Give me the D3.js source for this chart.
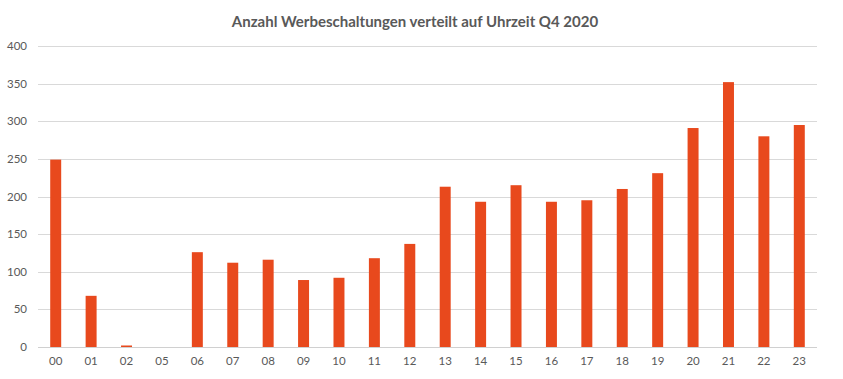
<!DOCTYPE html>
<html><head><meta charset="utf-8">
<script src="https://cdn.jsdelivr.net/npm/d3@7"></script>
<style>body{margin:0;background:#fff;} svg{display:block;}</style>
</head><body>
<svg id="chart" width="843" height="379"></svg>
<script>
const title = "Anzahl Werbeschaltungen verteilt auf Uhrzeit Q4 2020";
const hours = ["00","01","02","05","06","07","08","09","10","11","12","13","14","15","16","17","18","19","20","21","22","23"];
const values = [249,68,2,0,126,112,116,89,92,118,137,213,193,215,193,195,210,231,291,352,280,295];
const yTicks = [0,50,100,150,200,250,300,350,400];

const svg = d3.select("#chart");
const margin = {left:38, right:26};
const W = 843, H = 379;
const x = d3.scaleBand().domain(hours).range([margin.left, W - margin.right]).paddingInner(0.69).paddingOuter(0.345);
const y = d3.scaleLinear().domain([0,400]).range([347, 46]);

const font = "Lato, 'Open Sans', sans-serif";

// gridlines
svg.append("g").selectAll("line").data(yTicks).join("line")
  .attr("x1", margin.left).attr("x2", W - margin.right)
  .attr("y1", d => Math.round(y(d)) + 0.5).attr("y2", d => Math.round(y(d)) + 0.5)
  .attr("stroke", d => d === 0 ? "#d0d0d0" : "#d9d9d9").attr("stroke-width", 1);

// y labels
svg.append("g").selectAll("text").data(yTicks).join("text")
  .attr("x", 27).attr("y", d => y(d)).attr("dy", "0.35em")
  .attr("text-anchor", "end").attr("font-family", font).attr("font-size", 11.5)
  .attr("fill", "#595959").text(d => d);

// bars
svg.append("g").selectAll("rect").data(hours.map((h,i)=>({h, v: values[i]}))).join("rect")
  .attr("x", d => x(d.h)).attr("width", x.bandwidth())
  .attr("y", d => y(d.v)).attr("height", d => y(0) - y(d.v))
  .attr("fill", "#E8491D");

// x labels
svg.append("g").selectAll("text").data(hours).join("text")
  .attr("x", d => x(d) + x.bandwidth()/2).attr("y", 365)
  .attr("text-anchor", "middle").attr("font-family", font).attr("font-size", 11.5)
  .attr("fill", "#595959").text(d => d);

// title
svg.append("text").attr("x", 415).attr("y", 27).attr("text-anchor", "middle")
  .attr("font-family", font).attr("font-size", 15).attr("font-weight", "bold")
  .attr("fill", "#595959").text(title);
</script>
</body></html>
